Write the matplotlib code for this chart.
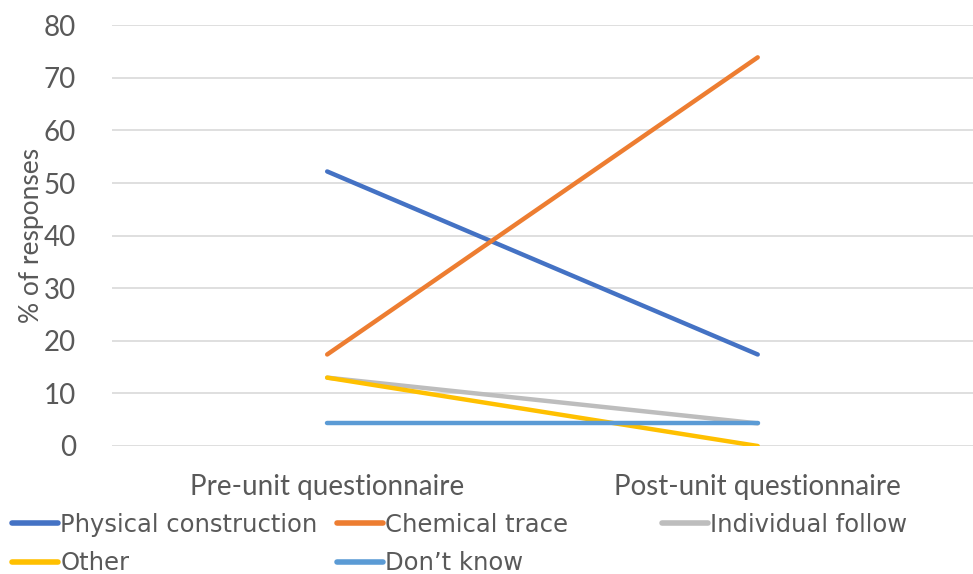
import matplotlib
matplotlib.use("Agg")
import matplotlib.pyplot as plt

# Data (% of responses)
categories = ["Pre-unit questionnaire", "Post-unit questionnaire"]
series_names = ["Physical construction", "Chemical trace", "Individual follow",
                "Other", "Don\u2019t know"]
physical = [52.2, 17.4]
chemical = [17.4, 73.9]
individual = [13.0, 4.3]
other = [13.0, 0.0]
dont_know = [4.3, 4.3]
colors = ["#4472C4", "#ED7D31", "#BDBDBD", "#FFC000", "#5B9BD5"]

text_col = "#595959"
plt.rcParams['font.family'] = ['Lato', 'DejaVu Sans']

fig = plt.figure(figsize=(9.73, 5.74), dpi=100)
ax = fig.add_axes([0.115, 0.223, 0.885, 0.733])

x = [0.5, 1.5]
handles = []
for vals, name, col in zip([physical, chemical, individual, other, dont_know],
                           series_names, colors):
    h, = ax.plot(x, vals, color=col, lw=3.2, solid_capstyle='round', label=name)
    handles.append(h)

ax.set_xlim(0, 2)
ax.set_ylim(0, 80)
ax.set_yticks(range(0, 81, 10))
ax.set_xticks(x)
ax.set_xticklabels(categories)
ax.grid(axis='y', color='#D9D9D9', lw=1.2)
ax.set_axisbelow(True)
for s in ax.spines.values():
    s.set_visible(False)
ax.tick_params(length=0, labelsize=20, colors=text_col)
ax.tick_params(axis='y', pad=26)
ax.tick_params(axis='x', pad=20)
ax.set_ylabel("% of responses", fontsize=19, color=text_col, labelpad=0)

# legend: three equal-width columns, filled row by row
leg_font = {'family': ['DejaVu Sans'], 'size': 17.5}
columns = [[0, 3], [1, 4], [2]]
col_x = [0.002, 0.336, 0.67]
for idx, cx in zip(columns, col_x):
    leg = fig.legend(handles=[handles[i] for i in idx], loc='upper left',
                     bbox_to_anchor=(cx, 0.124), ncol=1, frameon=False,
                     prop=leg_font, labelcolor=text_col, handlelength=1.9,
                     handletextpad=0.1, labelspacing=0.6, borderaxespad=0.0)
    for line in leg.get_lines():
        line.set_linewidth(4)

fig.savefig("out.png", dpi=100)
